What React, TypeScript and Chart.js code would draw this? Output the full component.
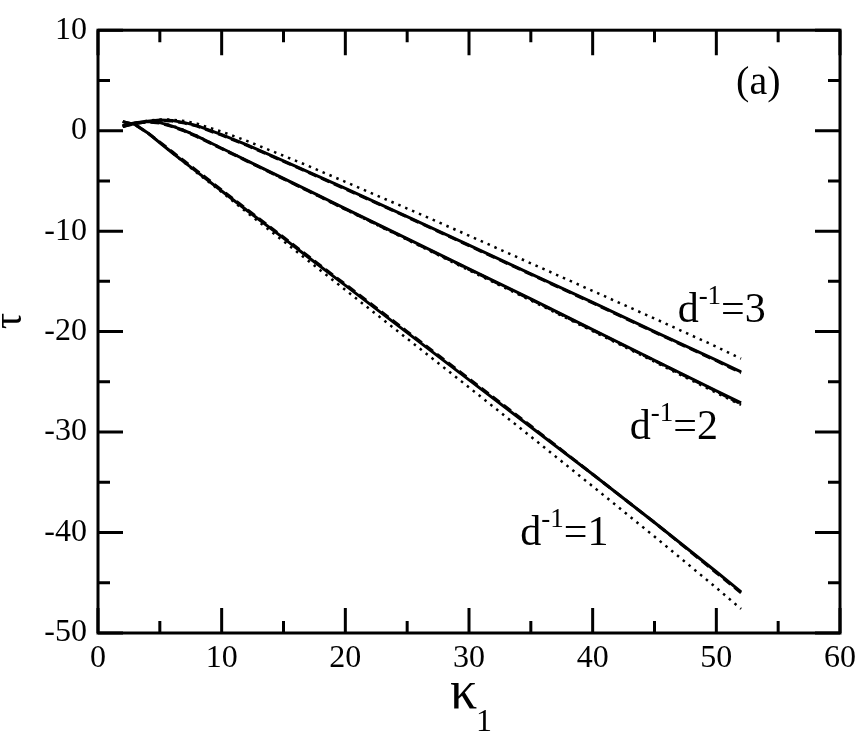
import React, { useEffect, useRef } from 'react';
import { Chart, registerables } from 'chart.js';

Chart.register(...registerables);

// kappa_1 grid shared by every curve
const kappa = [2, 3, 4, 5, 6, 7, 8, 10, 12, 15, 17, 20, 25, 30, 35, 40, 45, 50, 52];

// d^-1 = 1
const tauD1Solid = [0.9, 0.6, -0.2, -1.2, -2.2, -3.15, -4.1, -6.0, -7.9, -10.7, -12.6, -15.4, -20.1, -24.8, -29.5, -34.2, -39.0, -43.9, -45.9];
const tauD1Dashed = [0.9, 0.6, -0.2, -1.15, -2.1, -3.05, -4.0, -5.9, -7.8, -10.6, -12.5, -15.3, -20.0, -24.7, -29.4, -34.2, -39.0, -44.0, -46.0];
const tauD1Dotted = [0.9, 0.6, -0.2, -1.2, -2.2, -3.2, -4.2, -6.1, -8.1, -11.0, -12.95, -15.85, -20.7, -25.55, -30.45, -35.4, -40.4, -45.5, -47.6];

// d^-1 = 2
const tauD2Solid = [0.5, 0.8, 0.9, 0.8, 0.45, 0.0, -0.55, -1.75, -2.95, -4.75, -5.95, -7.75, -10.75, -13.75, -16.75, -19.8, -22.85, -25.9, -27.1];
const tauD2Dashed = [0.5, 0.75, 0.85, 0.75, 0.4, -0.05, -0.6, -1.8, -3.0, -4.8, -6.0, -7.8, -10.8, -13.8, -16.8, -19.85, -22.9, -25.95, -27.2];
const tauD2Dotted = [0.5, 0.8, 0.9, 0.85, 0.5, 0.05, -0.5, -1.75, -2.95, -4.8, -6.0, -7.85, -10.85, -13.9, -16.9, -19.95, -23.0, -26.1, -27.3];

// d^-1 = 3
const tauD3Solid = [0.4, 0.75, 0.95, 1.05, 1.0, 0.8, 0.5, -0.4, -1.4, -3.0, -4.1, -5.75, -8.55, -11.4, -14.25, -17.1, -20.0, -22.85, -24.0];
const tauD3Dashed = [0.4, 0.7, 0.9, 1.0, 0.95, 0.75, 0.45, -0.45, -1.45, -3.05, -4.15, -5.8, -8.6, -11.45, -14.3, -17.15, -20.05, -22.9, -24.1];
const tauD3Dotted = [0.4, 0.75, 1.0, 1.1, 1.1, 0.95, 0.7, -0.1, -1.0, -2.5, -3.5, -5.1, -7.75, -10.45, -13.2, -15.95, -18.7, -21.5, -22.7];

// axis tick marks
const xMajorTicks = [0, 10, 20, 30, 40, 50, 60];
const xMinorTicks = [5, 15, 25, 35, 45, 55];
const yMajorTicks = [-50, -40, -30, -20, -10, 0, 10];
const yMinorTicks = [-45, -35, -25, -15, -5, 5];

// curve labels: [kappa, tau, value]
const curveLabels: [number, number, string][] = [
  [46.87, -19.04, '3'],
  [43.0, -30.65, '2'],
  [34.15, -41.2, '1'],
];

const FONT = '"Liberation Serif", "Times New Roman", serif';

const toPoints = (ys: number[]) => kappa.map((x, i) => ({ x, y: ys[i] }));

const framePlugin = {
  id: 'frame',
  afterDraw(chart: any) {
    const { ctx, chartArea: a, scales } = chart;
    const xs = scales.x;
    const ys = scales.y;
    ctx.save();
    ctx.strokeStyle = '#000';
    ctx.lineWidth = 3;
    ctx.strokeRect(a.left, a.top, a.right - a.left, a.bottom - a.top);

    const xtick = (vals: number[], len: number) => {
      vals.forEach((v) => {
        const px = xs.getPixelForValue(v);
        ctx.beginPath();
        ctx.moveTo(px, a.bottom);
        ctx.lineTo(px, a.bottom - len);
        ctx.moveTo(px, a.top);
        ctx.lineTo(px, a.top + len);
        ctx.stroke();
      });
    };
    const ytick = (vals: number[], len: number) => {
      vals.forEach((v) => {
        const py = ys.getPixelForValue(v);
        ctx.beginPath();
        ctx.moveTo(a.left, py);
        ctx.lineTo(a.left + len, py);
        ctx.moveTo(a.right, py);
        ctx.lineTo(a.right - len, py);
        ctx.stroke();
      });
    };
    xtick(xMajorTicks, 25);
    xtick(xMinorTicks, 12);
    ytick(yMajorTicks, 25);
    ytick(yMinorTicks, 12);

    ctx.fillStyle = '#000';
    ctx.textBaseline = 'alphabetic';
    ctx.textAlign = 'left';

    // d^-1 = n labels
    curveLabels.forEach(([kx, ty, n]) => {
      let x = xs.getPixelForValue(kx);
      const y = ys.getPixelForValue(ty);
      ctx.font = `42px ${FONT}`;
      ctx.fillText('d', x, y);
      x += ctx.measureText('d').width;
      ctx.font = `27px ${FONT}`;
      ctx.fillText('-1', x, y - 18);
      x += ctx.measureText('-1').width;
      ctx.font = `42px ${FONT}`;
      ctx.fillText('=' + n, x, y);
    });

    // panel tag
    ctx.font = `40px ${FONT}`;
    ctx.fillText('(a)', xs.getPixelForValue(51.6), ys.getPixelForValue(3.6));

    // x axis title: kappa_1
    ctx.font = `54px ${FONT}`;
    ctx.fillText('κ', 450, 708);
    ctx.font = `32px ${FONT}`;
    ctx.fillText('1', 476, 731);

    // y axis title: tau
    ctx.translate(21, 321);
    ctx.rotate(-Math.PI / 2);
    ctx.textAlign = 'center';
    ctx.font = `40px ${FONT}`;
    ctx.fillText('τ', 0, 0);
    ctx.restore();
  },
};

const solid = (data: number[]) => ({
  data: toPoints(data),
  borderColor: '#000',
  borderWidth: 3,
  showLine: true,
  pointRadius: 0,
});
const dashed = (data: number[]) => ({ ...solid(data), borderWidth: 3, borderDash: [9, 5] });
const dotted = (data: number[]) => ({ ...solid(data), borderWidth: 2.5, borderDash: [2.5, 5] });

const App: React.FC = () => {
  const canvasRef = useRef<HTMLCanvasElement>(null);
  const chartRef = useRef<Chart | null>(null);

  useEffect(() => {
    if (!canvasRef.current) return;
    chartRef.current = new Chart(canvasRef.current, {
      type: 'scatter',
      data: {
        datasets: [
          solid(tauD1Solid),
          dashed(tauD1Dashed),
          dotted(tauD1Dotted),
          solid(tauD2Solid),
          dashed(tauD2Dashed),
          dotted(tauD2Dotted),
          solid(tauD3Solid),
          dashed(tauD3Dashed),
          dotted(tauD3Dotted),
        ] as any,
      },
      options: {
        responsive: false,
        animation: false,
        layout: { padding: { top: 13, right: 19, left: 0, bottom: 0 } },
        plugins: { legend: { display: false }, tooltip: { enabled: false } },
        scales: {
          x: {
            type: 'linear',
            min: 0,
            max: 60,
            afterFit: (s: any) => { s.height = 100; },
            grid: { display: false, drawTicks: false },
            border: { display: false },
            ticks: {
              stepSize: 10,
              padding: 6,
              color: '#000',
              font: { family: FONT, size: 32 },
            },
          },
          y: {
            type: 'linear',
            min: -50,
            max: 10,
            afterFit: (s: any) => { s.width = 98; },
            grid: { display: false, drawTicks: false },
            border: { display: false },
            ticks: {
              stepSize: 10,
              padding: 11,
              color: '#000',
              font: { family: FONT, size: 32 },
            },
          },
        },
      },
      plugins: [framePlugin],
    });
    return () => {
      chartRef.current?.destroy();
      chartRef.current = null;
    };
  }, []);

  return (
    <div style={{ position: 'absolute', left: 0, top: 0, width: 862, height: 733, background: '#fff' }}>
      <canvas ref={canvasRef} width={862} height={733} />
    </div>
  );
};

export default App;
